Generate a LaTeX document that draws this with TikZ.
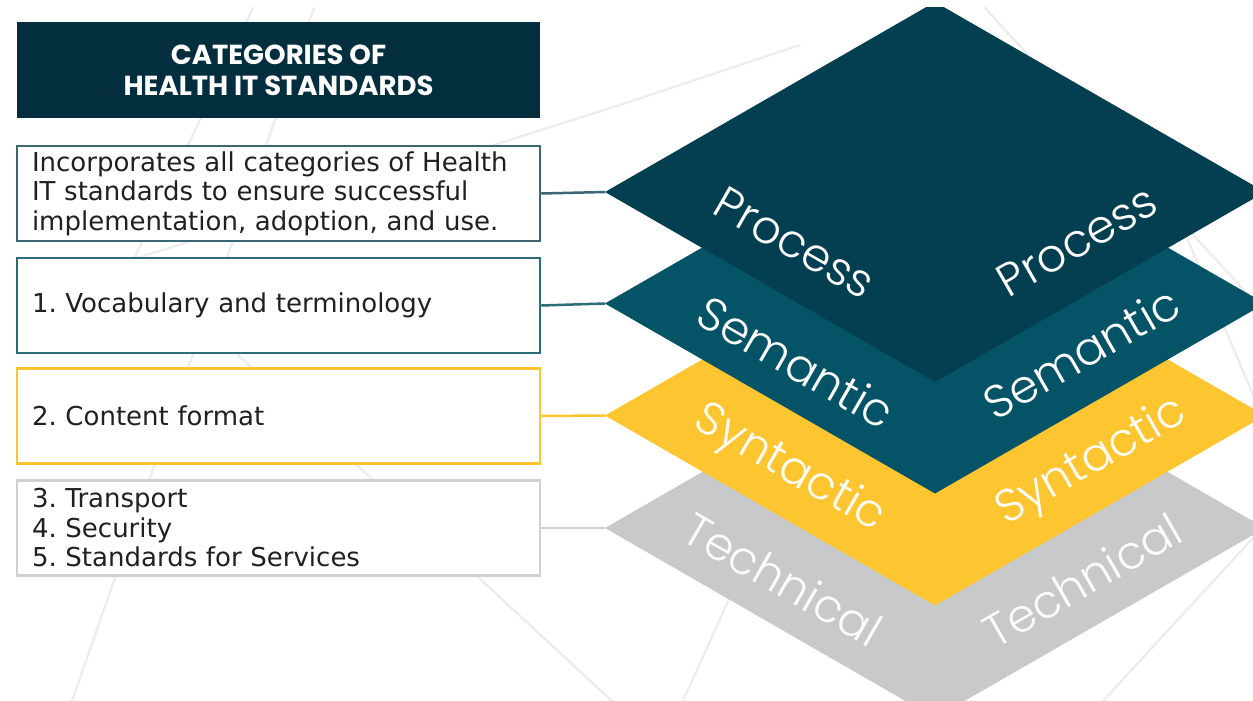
\documentclass[tikz,border=0pt]{standalone}
\usepackage{fontspec}
\setmainfont{DejaVu Sans}
\newfontfamily\headfont{Poppins}
\newfontfamily\layerfont{Poppins}[UprightFont=* Light]
\frenchspacing

\definecolor{headbg}{HTML}{032E3E}
\definecolor{processfill}{HTML}{033F51}
\definecolor{semanticfill}{HTML}{045366}
\definecolor{syntacticfill}{HTML}{FDC530}
\definecolor{technicalfill}{HTML}{C8C9CB}
\definecolor{processedge}{HTML}{3B6673}
\definecolor{semanticedge}{HTML}{2D6C7A}
\definecolor{syntacticedge}{HTML}{FDC530}
\definecolor{technicaledge}{HTML}{CFD0D2}
\definecolor{bgline}{HTML}{EDEDED}
\definecolor{bodytext}{HTML}{231F20}

\tikzset{
  catbox/.style={draw, line width=2.5pt, fill=white, minimum width=523pt,
    minimum height=95pt, text width=493pt, inner xsep=15pt, align=left,
    text=bodytext, font=\fontsize{26}{29.5}\selectfont},
  link/.style={line width=2.5pt},
  layerlabel/.style={font=\layerfont\fontsize{46}{46}\selectfont, inner sep=0pt},
  network/.style={bgline, line width=2.4pt, line cap=round, line join=round}
}

% one layer of the stack: name, centre y, fill, label colour, label,
% left label position (x, drop below centre), right label position (x, drop)
\newcommand\stacklayer[9]{%
  \fill[#3] (605,#2) -- (935,#2-190) -- (1265,#2) -- (935,#2+190) -- cycle;
  \coordinate (#1) at (605,#2);
  \node[layerlabel, text=#4, rotate=-29.9] (#1-left) at (#6,#2+#7) {#5};
  \node[layerlabel, text=#4, rotate=29.9] (#1-right) at (#8,#2+#9) {#5};
}

\begin{document}
\begin{tikzpicture}[x=1pt,y=-1pt]
\useasboundingbox (0,0) rectangle (1253,701);
\begin{scope}
\clip (0,8) rectangle (1253,701);

% faint network in the background
\draw[network] (314,8) -- (72,701);
\draw[network] (253,8) -- (134,259) -- (612,701);
\draw[network] (134,259) -- (620,105) -- (800,45);
\draw[network] (985,8) -- (1253,300);
\draw[network] (1150,150) -- (1253,395);
\draw[network] (1253,538) -- (1103,701);
\draw[network] (760,530) -- (683,701);

% the stacked layers, bottom first
\stacklayer{tech}{528}{technicalfill}{white!92!technicalfill}{Technical}{783}{51}{1082}{52}
\stacklayer{synt}{415.5}{syntacticfill}{white!95!syntacticfill}{Syntactic}{789}{54}{1092}{47}
\stacklayer{sem}{303.5}{semanticfill}{white}{Semantic}{796}{58}{1081}{49}
\stacklayer{proc}{192}{processfill}{white}{Process}{795}{51}{1077}{49}

% heading
\node[fill=headbg, minimum width=523pt, minimum height=96pt, align=center,
  text=white, font=\headfont\bfseries\fontsize{27.5}{31}\selectfont]
  (head) at (278.5,70) {CATEGORIES OF\\HEALTH IT STANDARDS};

% category boxes
\node[catbox, draw=processedge] (b1) at (278.5,193.5)
  {Incorporates all categories of Health\\IT standards to ensure successful\\implementation, adoption, and use.};
\node[catbox, draw=semanticedge] (b2) at (278.5,305.5)
  {1. Vocabulary and terminology};
\node[catbox, draw=syntacticedge] (b3) at (278.5,416)
  {2. Content format};
\node[catbox, draw=technicaledge] (b4) at (278.5,528)
  {3. Transport\\4. Security\\5. Standards for Services};

% connectors to the layers
\draw[link, processedge] (b1.east) -- (proc);
\draw[link, semanticedge] (b2.east) -- (sem);
\draw[link, syntacticedge] (b3.east) -- (synt);
\draw[link, technicaledge] (b4.east) -- (tech);
\end{scope}
\end{tikzpicture}
\end{document}
